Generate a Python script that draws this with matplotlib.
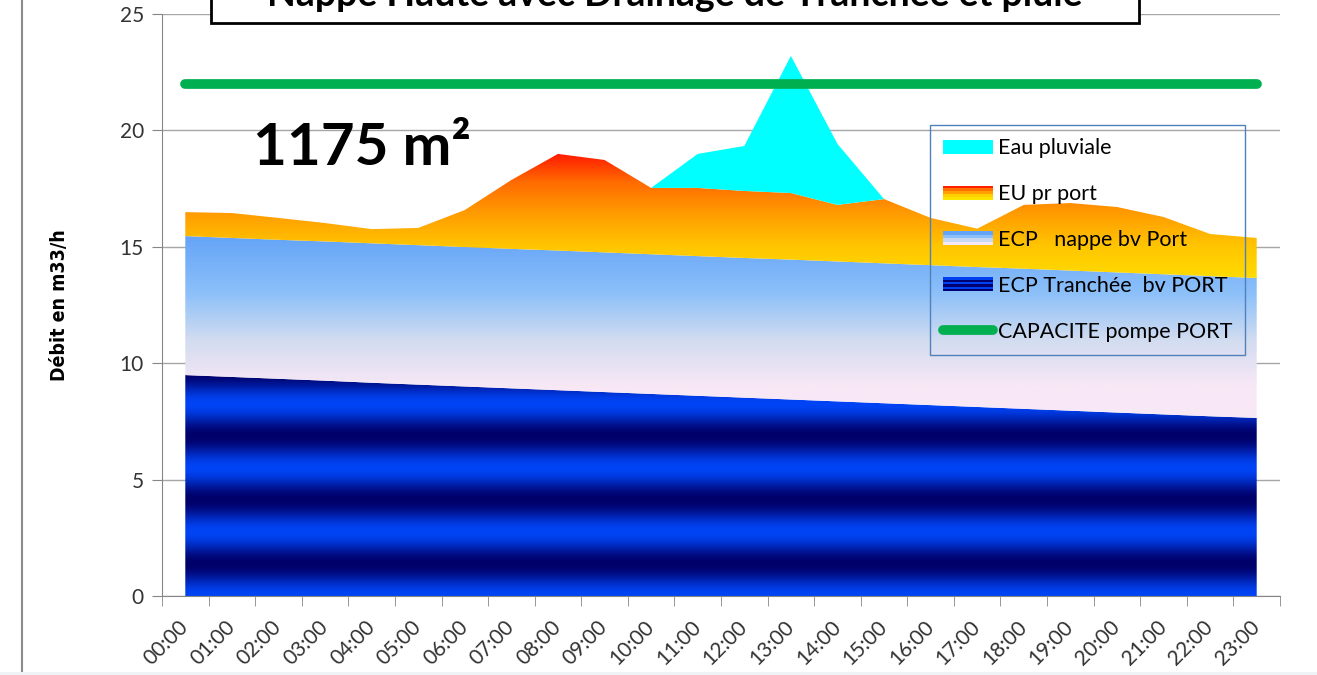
import numpy as np
import matplotlib
matplotlib.use("Agg")
import matplotlib.pyplot as plt
from matplotlib.colors import to_rgb
from matplotlib.legend_handler import HandlerBase
from matplotlib.patches import Rectangle, Patch
from matplotlib.lines import Line2D

# ---- data ----
heures = ["00:00", "01:00", "02:00", "03:00", "04:00", "05:00", "06:00", "07:00",
          "08:00", "09:00", "10:00", "11:00", "12:00", "13:00", "14:00", "15:00",
          "16:00", "17:00", "18:00", "19:00", "20:00", "21:00", "22:00", "23:00"]

ecp_tranchee = [9.49, 9.41, 9.33, 9.25, 9.16, 9.08, 9.00, 8.92, 8.84, 8.76, 8.68, 8.60,
                8.52, 8.44, 8.36, 8.28, 8.20, 8.12, 8.04, 7.96, 7.88, 7.80, 7.72, 7.65]
ecp_nappe = [5.97, 5.97, 5.97, 5.98, 5.99, 5.99, 5.99, 5.99, 6.00, 6.00, 6.00, 6.00,
             6.00, 6.01, 6.01, 6.01, 6.01, 6.01, 6.02, 6.02, 6.02, 6.02, 6.02, 6.01]
eu_port = [1.03, 1.07, 0.94, 0.79, 0.61, 0.74, 1.59, 2.96, 4.15, 3.97, 2.85, 2.93,
           2.88, 2.86, 2.43, 2.76, 2.03, 1.65, 2.74, 2.90, 2.81, 2.46, 1.81, 1.72]
eau_pluviale = [0, 0, 0, 0, 0, 0, 0, 0, 0, 0, 0, 1.46,
                1.93, 5.89, 2.62, 0, 0, 0, 0, 0, 0, 0, 0, 0]
capacite = [22] * 24

titre = "Nappe Haute avec Drainage de Tranchée et pluie"
surface = "1175 m²"

# ---- helpers ----
Y = np.linspace(0, 25, 1000)


def ramp(stops):
    ys = [s[0] for s in stops]
    cols = np.array([to_rgb(s[1]) for s in stops])
    rgb = np.stack([np.interp(Y, ys, cols[:, k]) for k in range(3)], axis=-1)
    return rgb[:, None, :]


def bands(dark, bright, period):
    t = (np.cos(2 * np.pi * Y / period) + 1) / 2
    d, b = np.array(to_rgb(dark)), np.array(to_rgb(bright))
    return (d + (b - d) * t[:, None])[:, None, :]


def gradient_area(ax, x, low, high, img, z):
    poly = ax.fill_between(x, low, high, facecolor="none", edgecolor="none", zorder=z)
    im = ax.imshow(img, extent=(-0.5, 23.5, 0, 25), origin="lower", aspect="auto",
                   interpolation="bilinear", zorder=z)
    im.set_clip_path(poly.get_paths()[0], transform=ax.transData)


class GradHandler(HandlerBase):
    def __init__(self, colors):
        super().__init__()
        self.colors = colors

    def create_artists(self, legend, orig_handle, xdescent, ydescent, width, height,
                       fontsize, trans):
        n = len(self.colors)
        out = []
        for i, c in enumerate(self.colors):
            out.append(Rectangle((-xdescent, -ydescent + height * (n - 1 - i) / n),
                                 width, height / n, facecolor=c, edgecolor="none",
                                 transform=trans))
        return out


# ---- figure ----
plt.rcParams["font.family"] = ["Lato", "DejaVu Sans"]

W, H = 1317, 675
fig = plt.figure(figsize=(W / 100, H / 100), dpi=100)
ax = fig.add_axes([162 / W, 1 - 596 / H, (1280 - 162) / W, (596 - 14) / H])

x = np.arange(len(heures))
b1 = np.array(ecp_tranchee)
b2 = b1 + np.array(ecp_nappe)
b3 = b2 + np.array(eu_port)
b4 = b3 + np.array(eau_pluviale)

gradient_area(ax, x, 0, b1, bands("#00006a", "#0044f5", 2.75), 2)
gradient_area(ax, x, b1, b2, ramp([(9.0, "#f8e8f6"), (11.0, "#d2dcf0"),
                                   (13.0, "#8cc0f9"), (15.6, "#62a2f7")]), 2)
gradient_area(ax, x, b2, b3, ramp([(13.6, "#ffdc00"), (15.0, "#ffc600"),
                                   (16.5, "#ff9a00"), (17.8, "#ff6a00"),
                                   (19.0, "#ff1a00")]), 2)
ax.fill_between(x, b3, b4, facecolor="#00ffff", edgecolor="none", zorder=2)
ax.plot(x, capacite, color="#00b050", lw=7, solid_capstyle="round", zorder=4)

ax.set_xlim(-0.5, 23.5)
ax.set_ylim(0, 25)

ax.set_yticks(range(0, 26, 5))
ax.yaxis.grid(True, color="#a6a6a6", lw=1)
ax.set_axisbelow(True)
ax.tick_params(axis="y", length=7, color="#868686", labelsize=15, labelcolor="#333333", pad=6)

ax.set_xticks(x)
ax.set_xticklabels(heures, rotation=45, ha="right", va="center", rotation_mode="anchor")
ax.set_xticks(np.arange(-0.5, 24, 1), minor=True)
ax.tick_params(axis="x", which="major", length=0, labelsize=15, labelcolor="#333333", pad=20)
ax.tick_params(axis="x", which="minor", length=7, color="#868686")

for s in ("top", "right"):
    ax.spines[s].set_visible(False)
for s in ("left", "bottom"):
    ax.spines[s].set_color("#868686")

ax.set_ylabel("Débit en m33/h", fontsize=14, fontweight="bold",
              family="DejaVu Sans", fontstretch="condensed")
ax.yaxis.set_label_coords((69 - 162) / (1280 - 162), 0.5)

ax.text(1.45, 18.51, surface, fontsize=42, fontweight="bold", va="baseline", ha="left",
        zorder=6)

handles = [Patch(), Patch(), Patch(), Patch(),
           Line2D([], [], color="#00b050", lw=7, solid_capstyle="round")]
labels = ["Eau pluviale", "EU pr port", "ECP   nappe bv Port", "ECP Tranchée  bv PORT",
          "CAPACITE pompe PORT"]
hmap = {handles[0]: GradHandler(["#00ffff"]),
        handles[1]: GradHandler(["#ff2000", "#ff7000", "#ffa000", "#ffd000", "#ffe400"]),
        handles[2]: GradHandler(["#64a4f8", "#8cc0f8", "#c8d8f0", "#f4e8f4"]),
        handles[3]: GradHandler(["#0040f0", "#000070", "#0040f0", "#000070", "#0040f0",
                                 "#000070"])}
leg = ax.legend(handles, labels, handler_map=hmap, loc="upper left",
                bbox_to_anchor=(930 / W, 1 - 125 / H), bbox_transform=fig.transFigure,
                borderaxespad=0, fontsize=15.5, handlelength=2.3, handleheight=0.62,
                handletextpad=0.22, labelspacing=1.2, borderpad=0.62, fancybox=False,
                framealpha=1)
leg.get_frame().set_facecolor("none")
leg.get_frame().set_edgecolor("#4f81bd")
leg.get_frame().set_linewidth(1)
leg.set_zorder(7)

# title box cut at the top of the picture
fig.add_artist(Rectangle((211 / W, 1 - 23 / H), (1139 - 211) / W, 0.2,
                         transform=fig.transFigure, facecolor="white", edgecolor="black",
                         lw=2, zorder=5))
fig.text((211 + 1139) / 2 / W, 1 - 6 / H, titre, fontsize=27, fontweight="bold",
         ha="center", va="baseline", zorder=6)

fig.add_artist(Line2D([22 / W, 22 / W], [4 / H, 1], transform=fig.transFigure,
                      color="#8c8c8c", lw=1.5))
fig.add_artist(Line2D([0, 1], [2 / H, 2 / H], transform=fig.transFigure,
                      color="#eef2f6", lw=2))

fig.savefig("out.png", dpi=100)
